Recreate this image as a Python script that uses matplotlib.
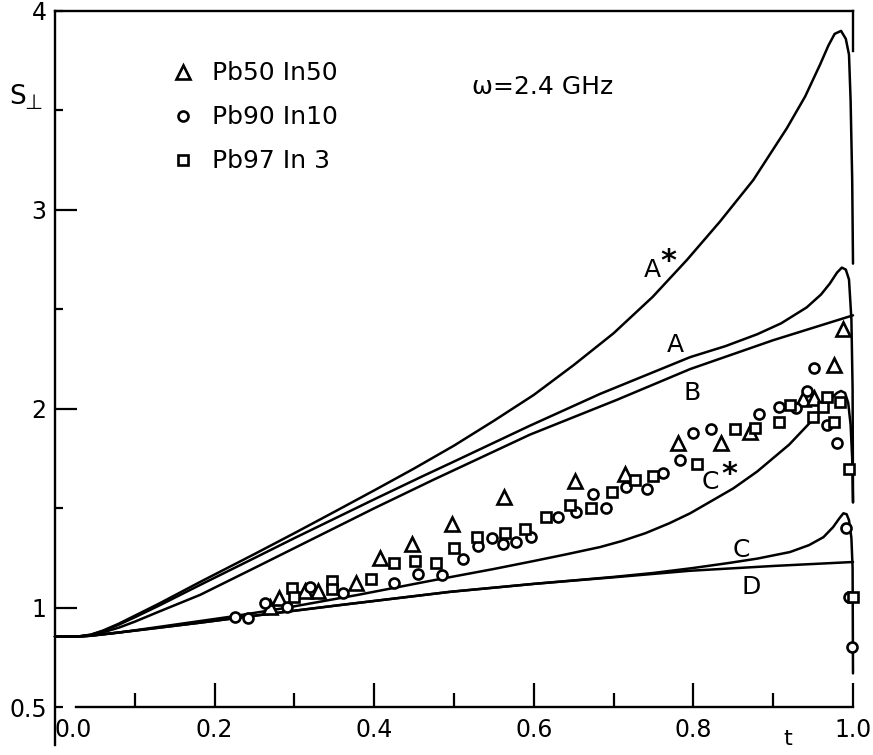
import numpy as np
import matplotlib.pyplot as plt

# theory curves S_perp(t)
t_astar = [0.0, 0.03, 0.045, 0.06, 0.08, 0.1, 0.13, 0.182, 0.25, 0.3, 0.35, 0.4, 0.45,
           0.5, 0.55, 0.6, 0.65, 0.7, 0.749, 0.792, 0.833, 0.875, 0.917, 0.94, 0.959,
           0.969, 0.977, 0.985, 0.991, 0.995, 0.997, 0.999, 1.0]
s_astar = [0.855, 0.856, 0.865, 0.885, 0.92, 0.96, 1.02, 1.13, 1.27, 1.375, 1.482, 1.59,
           1.70, 1.815, 1.94, 2.07, 2.22, 2.38, 2.563, 2.749, 2.94, 3.15, 3.41, 3.57,
           3.733, 3.825, 3.885, 3.90, 3.86, 3.78, 3.55, 3.15, 2.73]

t_a = [0.0, 0.03, 0.045, 0.06, 0.08, 0.1, 0.13, 0.182, 0.25, 0.3, 0.4, 0.46, 0.5, 0.595,
       0.683, 0.796, 0.84, 0.88, 0.91, 0.942, 0.96, 0.971, 0.98, 0.986, 0.991, 0.995,
       0.998, 0.9995, 1.0]
s_a = [0.855, 0.856, 0.864, 0.883, 0.915, 0.952, 1.01, 1.115, 1.25, 1.35, 1.545, 1.66,
       1.735, 1.915, 2.075, 2.26, 2.315, 2.375, 2.43, 2.51, 2.575, 2.63, 2.685, 2.71,
       2.70, 2.65, 2.45, 2.1, 1.53]

t_b = [0.0, 0.03, 0.045, 0.06, 0.08, 0.1, 0.13, 0.182, 0.25, 0.3, 0.4, 0.474, 0.595,
       0.704, 0.796, 0.9, 1.0]
s_b = [0.855, 0.856, 0.862, 0.876, 0.9, 0.93, 0.98, 1.065, 1.2, 1.3, 1.5, 1.643, 1.87,
       2.045, 2.2, 2.345, 2.47]

t_cstar = [0.0, 0.02, 0.04, 0.08, 0.15, 0.22, 0.29, 0.38, 0.47, 0.55, 0.6, 0.64, 0.683,
           0.71, 0.74, 0.77, 0.796, 0.85, 0.88, 0.92, 0.946, 0.96, 0.972, 0.98, 0.985,
           0.99, 0.994, 0.997, 0.999, 1.0]
s_cstar = [0.855, 0.855, 0.857, 0.875, 0.915, 0.955, 1.0, 1.065, 1.135, 1.195, 1.235,
           1.268, 1.305, 1.335, 1.375, 1.425, 1.475, 1.6, 1.685, 1.82, 1.93, 1.995, 2.05,
           2.08, 2.09, 2.08, 2.03, 1.92, 1.75, 1.53]

t_c = [0.0, 0.02, 0.035, 0.05, 0.1, 0.182, 0.24, 0.35, 0.495, 0.6, 0.7, 0.75, 0.8, 0.846,
       0.88, 0.921, 0.945, 0.963, 0.975, 0.983, 0.988, 0.992, 0.995, 0.998, 0.9995, 1.0]
s_c = [0.855, 0.855, 0.857, 0.862, 0.885, 0.925, 0.955, 1.01, 1.08, 1.12, 1.155, 1.175,
       1.2, 1.226, 1.247, 1.28, 1.315, 1.355, 1.405, 1.45, 1.475, 1.47, 1.44, 1.35, 1.2,
       0.67]

t_d = [0.0, 0.02, 0.035, 0.05, 0.1, 0.182, 0.24, 0.35, 0.495, 0.6, 0.7, 0.796, 0.9, 1.0]
s_d = [0.855, 0.855, 0.857, 0.862, 0.885, 0.925, 0.955, 1.01, 1.08, 1.12, 1.153, 1.186,
       1.21, 1.23]

# measured points
t_pb50 = [0.269, 0.281, 0.313, 0.330, 0.377, 0.407, 0.447, 0.497, 0.563, 0.652, 0.714,
          0.781, 0.835, 0.871, 0.937, 0.951, 0.976, 0.987]
s_pb50 = [1.005, 1.05, 1.085, 1.085, 1.126, 1.251, 1.322, 1.422, 1.558, 1.638, 1.673,
          1.829, 1.829, 1.884, 2.05, 2.055, 2.221, 2.402]

t_pb90 = [0.226, 0.242, 0.263, 0.291, 0.320, 0.361, 0.425, 0.455, 0.485, 0.511, 0.530,
          0.548, 0.561, 0.578, 0.596, 0.630, 0.653, 0.674, 0.690, 0.716, 0.742, 0.762,
          0.783, 0.799, 0.822, 0.882, 0.907, 0.929, 0.942, 0.951, 0.967, 0.980, 0.991,
          0.995, 0.999]
s_pb90 = [0.955, 0.950, 1.025, 1.005, 1.106, 1.075, 1.126, 1.171, 1.166, 1.246, 1.312,
          1.352, 1.322, 1.332, 1.357, 1.457, 1.482, 1.573, 1.503, 1.608, 1.598, 1.678,
          1.744, 1.879, 1.899, 1.975, 2.01, 2.005, 2.09, 2.206, 1.92, 1.829, 1.402,
          1.055, 0.804]

t_pb97 = [0.297, 0.300, 0.347, 0.347, 0.396, 0.425, 0.451, 0.477, 0.500, 0.529, 0.564,
          0.589, 0.615, 0.645, 0.672, 0.698, 0.727, 0.749, 0.805, 0.852, 0.877, 0.907,
          0.921, 0.950, 0.962, 0.967, 0.976, 0.984, 0.995, 1.0]
s_pb97 = [1.10, 1.055, 1.136, 1.095, 1.146, 1.226, 1.236, 1.226, 1.302, 1.357, 1.377,
          1.397, 1.457, 1.518, 1.503, 1.583, 1.643, 1.663, 1.724, 1.899, 1.905, 1.935,
          2.02, 1.96, 2.01, 2.06, 1.935, 2.035, 1.698, 1.055]

x_major = [0.0, 0.2, 0.4, 0.6, 0.8, 1.0]
x_major_labels = ['0.0', '0.2', '0.4', '0.6', '0.8', '1.0']
x_minor = [0.1, 0.3, 0.5, 0.7, 0.9]
y_major = [1, 2, 3]
y_minor = [0.5, 1.5, 2.5, 3.5, 4.0]
y_minor_labels = ['0.5', '', '', '', '4']

fig = plt.figure(figsize=(8.73, 7.55), dpi=100)
ax = fig.add_axes([55/873, 1 - 745/755, 798/873, 734/755])
ax.set_xlim(0, 1.0)
ax.set_ylim(0.31, 4.0)

lw = 1.8
for tt, ss in [(t_astar, s_astar), (t_a, s_a), (t_b, s_b),
               (t_cstar, s_cstar), (t_c, s_c), (t_d, s_d)]:
    ax.plot(tt, ss, color='black', lw=lw, solid_joinstyle='round',
            solid_capstyle='round', clip_on=False)

mk = dict(linestyle='none', mfc='white', mec='black', mew=1.9, clip_on=False)
ax.plot(t_pb50, s_pb50, marker='^', ms=9.5, label='Pb50 In50', **mk)
ax.plot(t_pb90, s_pb90, marker='o', ms=7.2, label='Pb90 In10', **mk)
ax.plot(t_pb97, s_pb97, marker='s', ms=7.6, label='Pb97 In 3', **mk)

# frame
for side in ['left', 'top', 'right', 'bottom']:
    ax.spines[side].set_linewidth(1.7)
ax.spines['right'].set_bounds(3.8, 4.0)
ax.spines['bottom'].set_position(('data', 0.5))
ax.spines['bottom'].set_bounds(0.026, 1.0)

ax.xaxis.set_ticks_position('bottom')
ax.yaxis.set_ticks_position('left')
ax.set_xticks(x_major, x_major_labels)
ax.set_xticks(x_minor, minor=True)
ax.set_yticks(y_major, [str(v) for v in y_major])
ax.set_yticks(y_minor, y_minor_labels, minor=True)
ax.tick_params(axis='x', which='major', direction='in', length=17, width=1.6,
               pad=8, labelsize=17)
ax.tick_params(axis='x', which='minor', direction='in', length=10, width=1.6)
ax.tick_params(axis='y', which='major', direction='in', length=16, width=1.6,
               pad=6, labelsize=17)
ax.tick_params(axis='y', which='minor', direction='in', length=6, width=1.6,
               pad=6, labelsize=17)
ax.xaxis.get_major_ticks()[0].tick1line.set_visible(False)
ax.get_xticklabels()[0].set_ha('left')

ax.legend(loc='upper left', bbox_to_anchor=(0.116, 0.962), frameon=False,
          fontsize=18, handlelength=1.0, handletextpad=0.68, labelspacing=0.8)

# annotations
txt = dict(fontsize=18, ha='center', va='center')
ax.text(0.749, 2.70, 'A', **txt)
ax.text(0.769, 2.74, '*', fontsize=22, fontweight='bold', ha='center', va='center')
ax.text(0.778, 2.32, 'A', **txt)
ax.text(0.798, 2.08, 'B', **txt)
ax.text(0.821, 1.633, 'C', **txt)
ax.text(0.845, 1.67, '*', fontsize=22, fontweight='bold', ha='center', va='center')
ax.text(0.860, 1.29, 'C', **txt)
ax.text(0.873, 1.105, 'D', **txt)
ax.text(0.918, 0.34, 't', fontsize=16, ha='center', va='center')
ax.text(0.522, 3.62, 'ω=2.4 GHz', fontsize=18, ha='left', va='center')
fig.text(9/873, 1 - 97/755, 'S', fontsize=19, ha='left', va='center')
fig.text(24/873, 1 - 103/755, '⊥', fontsize=15, ha='left', va='center')

fig.savefig('out.png', dpi=100)
